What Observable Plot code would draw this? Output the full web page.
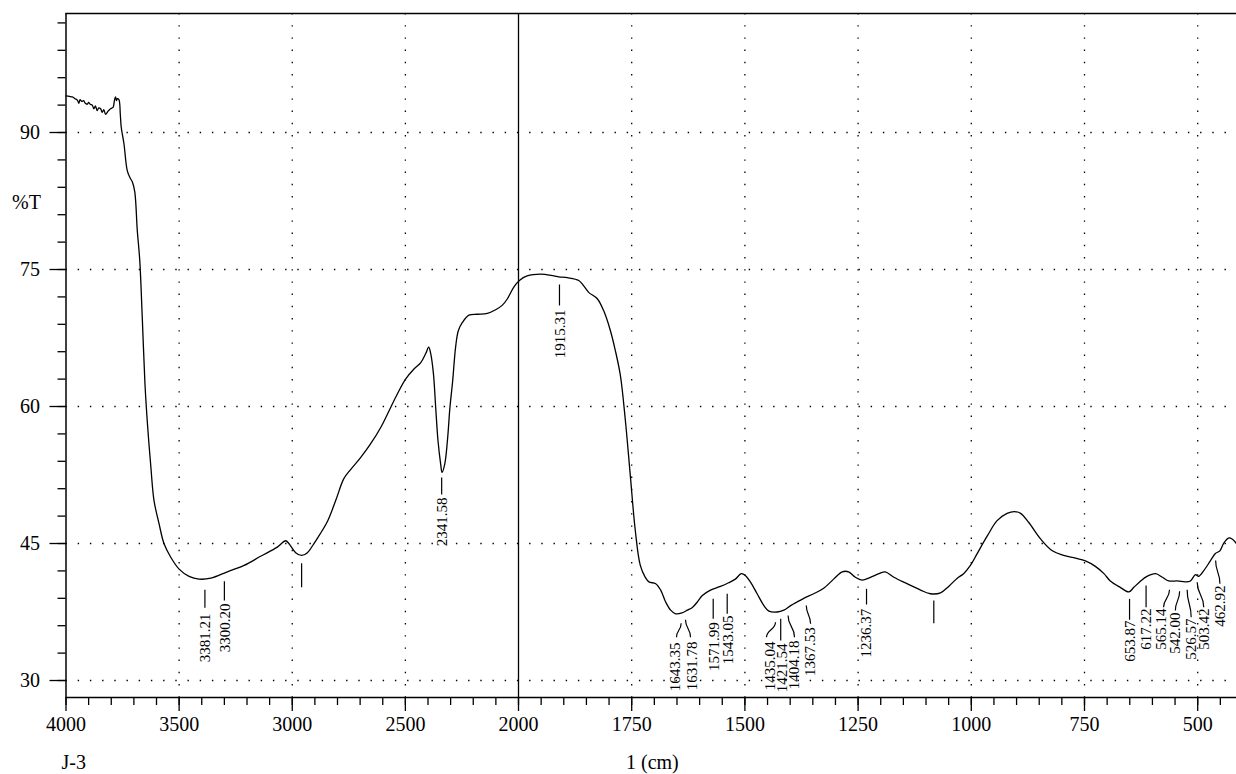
<!DOCTYPE html>
<html><head><meta charset="utf-8">
<script src="https://cdn.jsdelivr.net/npm/d3@7"></script>
<script src="https://cdn.jsdelivr.net/npm/@observablehq/plot@0.6"></script>
<style>
html,body{margin:0;padding:0;background:#fff;}
#chart svg, #chart svg text { font-family: "Liberation Serif", "Times New Roman", serif !important; }
</style>
</head><body><div id="chart"></div>
<script>
// ---- data ----
const wavenumber = [4000,3985,3972,3960,3950,3943,3938,3930,3922,3915,3906,3900,3893,3884,3877,3870,3862,3855,3847,3840,3833,3825,3815,3808,3803,3795,3791,3786,3781,3777,3773,3766,3760,3756,3744,3729,3716,3707,3696,3685,3674,3663,3651,3640,3625,3611,3589,3567,3537,3500,3456,3412,3360,3287,3213,3140,3066,3029,3015,2985,2958,2933,2904,2878,2843,2808,2772,2742,2698,2654,2609,2565,2535,2499,2462,2432,2410,2397,2388,2376,2366,2356,2344,2338,2326,2314,2303,2291,2278,2266,2248,2219,2182,2138,2101,2071,2049,2020,1998,1981,1951,1922,1911,1892,1867,1856,1845,1826,1812,1797,1786,1775,1764,1753,1742,1731,1720,1712,1697,1686,1675,1664,1653,1639,1627,1616,1605,1594,1576,1554,1536,1521,1508,1499,1488,1473,1458,1447,1429,1414,1399,1385,1370,1348,1326,1304,1285,1271,1256,1241,1223,1204,1190,1171,1142,1112,1090,1068,1050,1031,1017,1002,987,965,943,921,905,891,873,847,821,796,770,748,726,707,693,671,652,641,626,612,593,578,564,545,527,516,505,498,487,472,461,451,443,432,424,414.5];
const transmittance = [94.0,93.95,93.9,93.7,93.55,93.2,93.6,93.4,93.5,93.2,93.1,93.3,93.1,93.0,92.6,92.9,92.4,92.7,92.6,92.2,92.5,92.0,92.3,92.5,92.6,92.7,92.8,93.5,93.9,93.5,93.7,93.6,92.0,90.6,88.8,85.8,85.0,84.6,83.5,79.3,76.0,69.8,62.5,58.1,53.4,49.7,47.2,45.0,43.5,42.2,41.4,41.1,41.2,41.9,42.6,43.6,44.6,45.3,45.0,44.0,43.7,44.0,45.0,46.0,47.5,49.7,52.1,53.1,54.4,55.9,57.7,59.9,61.4,63.0,64.1,64.8,65.8,66.5,65.8,63.6,59.9,56.3,53.7,52.8,53.7,56.3,59.9,62.8,66.5,68.3,69.2,70.0,70.1,70.2,70.6,71.1,71.8,73.1,73.8,74.3,74.5,74.3,74.2,74.1,73.8,73.2,72.5,71.8,70.5,68.3,66.1,63.4,58.5,52.4,46.4,42.6,41.3,40.8,40.6,39.9,38.6,37.7,37.3,37.4,37.7,38.0,38.6,39.3,39.9,40.3,40.7,41.1,41.7,41.5,40.8,39.5,38.2,37.6,37.5,37.7,38.2,38.6,39.0,39.5,40.1,41.1,41.9,41.9,41.3,41.0,41.3,41.7,41.9,41.3,40.6,39.9,39.5,39.6,40.3,41.2,41.7,42.6,43.9,45.8,47.5,48.3,48.5,48.3,47.3,45.5,44.2,43.7,43.4,43.1,42.5,41.7,40.9,40.2,39.7,40.2,40.9,41.4,41.7,41.3,40.9,40.9,40.8,40.9,41.6,41.4,42.0,43.1,43.9,44.2,45.0,45.6,45.5,45.0];

// peak annotations: label, leader top (wn, %T), leader bottom (wn, %T), text anchor (wn, %T)
const peakLabels = ["3381.21","3300.20","","2341.58","1915.31","1643.35","1631.78","1571.99","1543.05","1435.04","1421.54","1404.18","1367.53","1236.37","","653.87","617.22","565.14","542.00","526.57","503.42","462.92"];
const leaderTopWn = [3386,3300,2958.6,2339.6,1909.5,1640.7,1631.2,1570.0,1539.1,1432.4,1420.9,1404.7,1364.4,1231.4,1082.8,650.5,614.0,562.2,539.9,523.3,501.1,460.4];
const leaderTopT  = [39.93,40.87,42.84,52.23,73.36,36.27,36.65,38.94,39.49,36.38,36.75,37.12,38.21,40.04,38.76,38.94,40.40,39.93,39.78,39.93,40.76,43.14];
const leaderBotWn = [3386,3300,2958.6,2339.6,1909.5,1651.1,1620.1,1570.0,1539.1,1452.3,1420.9,1390.5,1354.9,1231.4,1082.8,650.5,614.0,575.4,549.3,514.4,486.6,450.9];
const leaderBotT  = [37.96,38.76,40.22,50.36,71.06,34.74,34.74,36.75,37.30,34.74,34.38,34.74,36.21,38.32,36.27,36.65,38.02,38.02,37.66,36.93,38.02,40.59];
const textWn = [3384,3298,2958.6,2338.5,1908.5,1653.3,1616.4,1567.1,1537.8,1445.0,1417.8,1390.5,1354.9,1231.4,1082.8,649.9,614.0,581.2,549.3,514.4,485.0,449.4];
const textT  = [37.33,38.43,40.0,50.04,70.62,34.16,34.27,36.38,37.12,34.27,34.05,34.38,35.84,37.85,36.0,36.57,37.88,37.88,37.44,36.79,37.88,40.40];

const xTickLabels = [4000,3500,3000,2500,2000,1750,1500,1250,1000,750,500];
const xGridTicks = [3500,3000,2500,1750,1500,1250,1000,750,500];
const yTickLabels = [30,45,60,75,90];
const xMinorTicks = d3.range(4000, 2000, -100).concat(d3.range(2000, 400, -50));
const yMinorTicks = d3.range(30, 103, 3);
const xSplit = [2000];
const yLabel = "%T";
const xLabel = "1 (cm)";
const sampleName = "J-3";

// ---- build ----
const serif = "Liberation Serif, Times New Roman, serif";
const spectrum = wavenumber.map((w, i) => ({w, t: transmittance[i]}));
const peaks = peakLabels.map((label, i) => ({
  label, x1: leaderTopWn[i], y1: leaderTopT[i], x2: leaderBotWn[i], y2: leaderBotT[i],
  tx: textWn[i], ty: textT[i]
}));
const xMin = 4000, xMax = 414.3, yMin = 28.14, yMax = 103.03;

const chart = Plot.plot({
  width: 1236, height: 774,
  marginLeft: 65.5, marginRight: 0, marginTop: 13, marginBottom: 77,
  style: {fontFamily: serif, fontSize: "20px", background: "#fff", color: "#000"},
  x: {type: "linear", domain: [xMin, 2000, xMax], range: [65.5, 518, 1236], axis: null},
  y: {domain: [yMin, yMax], axis: null},
  marks: [
    Plot.ruleY(yTickLabels, {stroke: "#000", strokeWidth: 1.3, strokeDasharray: "1.4,10.8"}),
    Plot.ruleX(xGridTicks, {stroke: "#000", strokeWidth: 1.3, strokeDasharray: "1.4,10.8"}),
    Plot.ruleX(xSplit, {stroke: "#000", strokeWidth: 1.3}),
    Plot.ruleX([xMin], {stroke: "#000", strokeWidth: 1.5}),
    Plot.ruleY([yMin], {stroke: "#000", strokeWidth: 1.5}),
    Plot.ruleY([yMax], {stroke: "#000", strokeWidth: 1.5}),
    Plot.axisX(xMinorTicks, {anchor: "bottom", tickSize: 8, text: null, strokeWidth: 1.3, label: null}),
    Plot.axisX(xTickLabels, {anchor: "bottom", tickSize: 14, tickPadding: 5, strokeWidth: 1.3, fontSize: 20, fontFamily: serif, tickFormat: d => `${d}`, label: null}),
    Plot.axisY(yMinorTicks, {anchor: "left", tickSize: 8, text: null, strokeWidth: 1.3, label: null}),
    Plot.axisY(yTickLabels, {anchor: "left", tickSize: 16, tickPadding: 10, strokeWidth: 1.3, fontSize: 20, fontFamily: serif, tickFormat: d => `${d}`, label: null}),
    Plot.line(spectrum, {x: "w", y: "t", stroke: "#000", strokeWidth: 1.3, curve: "catmull-rom"}),
    Plot.link(peaks, {x1: "x1", y1: "y1", x2: "x2", y2: "y2", stroke: "#000", strokeWidth: 1.2, curve: "bump-y"}),
    Plot.text(peaks.filter(d => d.label), {x: "tx", y: "ty", text: "label", rotate: -90, textAnchor: "end", lineAnchor: "middle", fontSize: 15, fontFamily: serif, fill: "#000"}),
    Plot.text([yLabel], {frameAnchor: "left", dx: -39.5, dy: -153, text: d => d, fontSize: 20, fontFamily: serif, textAnchor: "middle", fill: "#000"}),
    Plot.text([sampleName], {frameAnchor: "bottom-left", dx: -4.5, dy: 71, text: d => d, fontSize: 20, fontFamily: serif, textAnchor: "start", lineAnchor: "bottom", fill: "#000"}),
    Plot.text([xLabel], {frameAnchor: "bottom-left", dx: 560, dy: 71, text: d => d, fontSize: 20, fontFamily: serif, textAnchor: "start", lineAnchor: "bottom", fill: "#000"})
  ]
});
document.getElementById("chart").appendChild(chart);
</script></body></html>
